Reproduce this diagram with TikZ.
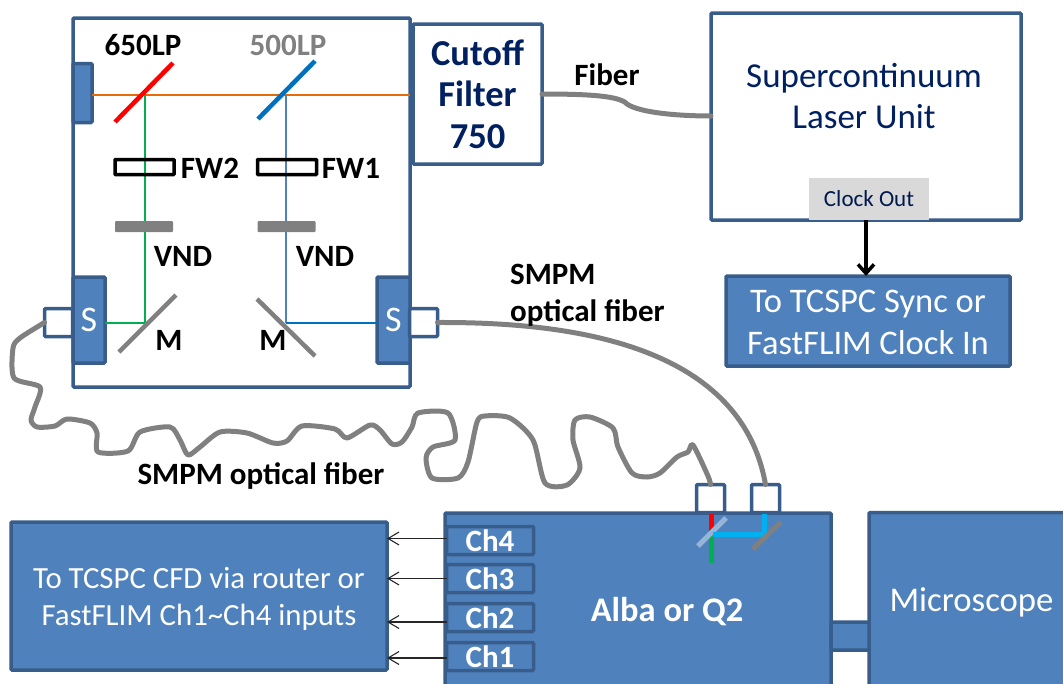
\documentclass[tikz,border=0pt]{standalone}
\usepackage{fontspec}
\setmainfont{Carlito}
\usetikzlibrary{arrows.meta}
\definecolor{edgeblue}{HTML}{385D8A}
\definecolor{fillblue}{HTML}{4F81BD}
\definecolor{navytext}{HTML}{002060}
\definecolor{beamorange}{HTML}{E46C0A}
\definecolor{beamgreen}{HTML}{00B050}
\definecolor{beamcyan}{HTML}{00B0F0}
\definecolor{mirrorblue}{HTML}{0070C0}
\definecolor{fibergrey}{HTML}{808080}
\tikzset{
	block/.style={draw=edgeblue, fill=fillblue, line width=3.5pt, rounded corners=1pt, inner sep=0pt, outer sep=0pt, text=white, align=center},
	plainbox/.style={block, fill=white, text=navytext},
	portbox/.style={block, fill=white, minimum width=28pt, minimum height=28pt},
	chanbox/.style={block, minimum width=87pt, minimum height=28pt, font=\fontsize{31}{34}\selectfont\bfseries},
	wheelbox/.style={draw=black, line width=3.5pt, rounded corners=0.5pt, inner sep=0pt, outer sep=0pt, minimum width=59pt, minimum height=15pt},
	vndbar/.style={fill=fibergrey, rounded corners=1pt, inner sep=0pt, outer sep=0pt, minimum width=58pt, minimum height=11pt},
	partlabel/.style={inner sep=0pt, font=\fontsize{31}{34}\selectfont\bfseries},
	fiber/.style={draw=fibergrey, line width=5pt, line cap=round, line join=round},
	chanarrow/.style={draw=black!85, line width=1.1pt, -{Straight Barb[length=11pt, width=13pt, line width=1.1pt]}},
}

\begin{document}
\begin{tikzpicture}[x=1pt, y=-1pt]
	%%%%% START %%%%%
	\useasboundingbox (0, 0) rectangle (1063, 683);
	
	% filter unit
	\node[plainbox, minimum width=337pt, minimum height=369pt] (unit) at (241.5, 202.5) {};
	\node[block, minimum width=19pt, minimum height=59pt] (dump) at (82.5, 93) {};
	\node[block, minimum width=32pt, minimum height=86pt, font=\fontsize{36}{38}\selectfont] (sleft) at (89, 320) {S};
	\node[block, minimum width=33pt, minimum height=86pt, font=\fontsize{36}{38}\selectfont] (sright) at (393.5, 320) {S};
	\node[portbox] (portleft) at (58.5, 322.5) {};
	\node[portbox] (portright) at (423.5, 322.5) {};
	
	\node[plainbox, minimum width=129pt, minimum height=140pt, font=\fontsize{36.5}{41.5}\selectfont\bfseries] (cutoff) at (477.5, 94) {Cutoff\\Filter\\750};
	
	% beams
	\coordinate (hitred) at (145, 95);
	\coordinate (hitblue) at (286, 95);
	\coordinate (foldgreen) at (145, 323);
	\coordinate (foldblue) at (286, 323);
	\draw[beamorange, line width=2pt] (dump.east |- hitred) -- (unit.east |- hitred);
	\draw[beamgreen, line width=2pt] (hitred) -- (foldgreen) -- (foldgreen -| sleft.east);
	\draw[fillblue, line width=2pt] (hitblue) -- (foldblue);
	\draw[mirrorblue, line width=2pt] (foldblue) -- (foldblue -| sright.west);
	
	% mirrors and filters
	\draw[red, line width=4.5pt] (115, 122) -- (173, 63);
	\draw[mirrorblue, line width=4.5pt] (258, 119) -- (315, 61);
	\draw[fibergrey, line width=4.5pt] (119, 352) -- (176, 295);
	\draw[fibergrey, line width=4.5pt] (257, 299) -- (315, 356);
	
	\node[wheelbox] (fwtwo) at (144.5, 167) {};
	\node[wheelbox] (fwone) at (287, 167) {};
	\node[vndbar] (vndtwo) at (144, 226.5) {};
	\node[vndbar] (vndone) at (286.5, 226.5) {};
	
	\node[partlabel] (lptwo) at (143, 45) {650LP};
	\node[partlabel, text=fibergrey] (lpone) at (288, 45) {500LP};
	\node[partlabel] (fwtwolabel) at (210, 168) {FW2};
	\node[partlabel] (fwonelabel) at (351, 168) {FW1};
	\node[partlabel] (vndtwolabel) at (183, 256) {VND};
	\node[partlabel] (vndonelabel) at (325, 256) {VND};
	\node[partlabel] (mleft) at (169, 340) {M};
	\node[partlabel] (mright) at (273, 340) {M};
	
	% laser
	\node[plainbox, minimum width=310pt, minimum height=207pt] (laser) at (866, 116.5) {};
	\node[text=navytext, align=center, inner sep=0pt, font=\fontsize{35}{41.5}\selectfont] (lasertext) at (864, 96) {Supercontinuum\\Laser Unit};
	\node[fill=black!15, text=navytext!80!black, inner sep=0pt, minimum width=120pt, minimum height=42pt, font=\fontsize{23}{26}\selectfont] (clockout) at (869, 199) {Clock Out};
	\node[block, minimum width=284pt, minimum height=90pt] (sync) at (868, 321) {};
	\node[text=white, align=center, inner sep=0pt, font=\fontsize{34.5}{42}\selectfont] (synctext) at (868, 322) {To TCSPC Sync or\\FastFLIM Clock In};
	\draw[black, line width=3.5pt, -{Straight Barb[length=9pt, width=16pt, line width=3.5pt]}] ([xshift=-3pt]clockout.south) -- ([xshift=-2pt]sync.north);
	
	% detectors
	\node[block, minimum width=386pt, minimum height=175pt] (alba) at (638, 600.5) {};
	\node[text=white, inner sep=0pt, font=\fontsize{34.5}{37}\selectfont\bfseries] (albatext) at (667, 612) {Alba or Q2};
	\node[block, minimum width=200pt, minimum height=175pt] (scope) at (969, 600) {};
	\node[text=white, inner sep=0pt, font=\fontsize{34.7}{37}\selectfont] (scopetext) at (971.5, 602) {Microscope};
	\node[block, minimum width=38pt, minimum height=28pt] (relay) at (850, 636) {};
	\node[block, minimum width=376pt, minimum height=148pt] (cfd) at (199, 596) {};
	\node[text=white, align=center, inner sep=0pt, font=\fontsize{30.8}{37}\selectfont] (cfdtext) at (199, 599) {To TCSPC CFD via router or\\FastFLIM Ch1\textasciitilde Ch4 inputs};
	
	\node[chanbox] (chfour) at (490, 540.5) {Ch4};
	\node[chanbox] (chthree) at (490, 578.5) {Ch3};
	\node[chanbox] (chtwo) at (490, 617.5) {Ch2};
	\node[chanbox] (chone) at (490, 656.5) {Ch1};
	
	\draw[chanarrow] ([yshift=2pt]chfour.west) -- ([yshift=2pt]chfour.west -| cfd.east);
	\draw[chanarrow] (chthree.west) -- (chthree.west -| cfd.east);
	\draw[chanarrow] ([yshift=-4.5pt]chtwo.west) -- ([yshift=-4.5pt]chtwo.west -| cfd.east);
	\draw[chanarrow] ([yshift=-1.5pt]chone.west) -- ([yshift=-1.5pt]chone.west -| cfd.east);
	
	\node[portbox] (fiberinone) at (710.5, 498.5) {};
	\node[portbox] (fiberintwo) at (765.5, 498.5) {};
	
	\draw[red, line width=5pt] (711, 514) -- (711, 531);
	\draw[beamgreen, line width=5pt] (711, 531) -- (711, 563);
	\draw[fillblue!60!white, line width=5pt] (698, 546) -- (726, 518);
	\draw[beamcyan, line width=5pt] (713, 534.5) -- (764, 534.5) -- (764, 514);
	\draw[fibergrey, line width=5pt] (753, 549) -- (781, 522);
	
	% fibers
	\draw[fiber] (cutoff.east |- 0, 94) .. controls (590, 94) and (620, 96) .. (627, 104) .. controls (640, 113) and (680, 116) .. (laser.west |- 0, 116);
	\draw[fiber] (portright.east) .. controls (560, 322) and (740, 340) .. (fiberintwo.north);
	\draw[fiber] plot[smooth, tension=0.45] coordinates {(portleft.west) (20,338) (13,348) (14,378) (40,387) (35,407) (31,420) (37,427) (55,426) (67,419) (90,423) (97,433) (98,452) (128,451) (140,432) (170,427) (180,440) (188,455) (200,447) (220,432) (247,433) (273,443) (287,441) (302,426) (335,429) (347,438) (370,425) (380,430) (392,444) (402,442) (412,427) (418,413) (448,413) (455,440) (433,447) (426,458) (432,478) (458,478) (468,462) (477,422) (485,416) (510,418) (533,440) (545,483) (567,485) (580,468) (573,440) (575,420) (590,417) (613,428) (618,447) (632,473) (647,477) (660,473) (677,457) (688,452) (693,445) (708,476) (fiberinone.north)};
	
	\node[partlabel] (fiberlabel) at (607, 75) {Fiber};
	\node[partlabel, align=left, anchor=north west, font=\fontsize{31}{37}\selectfont\bfseries] (smpmright) at (510, 264) {SMPM\\optical fiber};
	\node[partlabel] (smpmleft) at (261, 476) {SMPM optical fiber};
	
	%%%%% END %%%%%
\end{tikzpicture}
\end{document}
